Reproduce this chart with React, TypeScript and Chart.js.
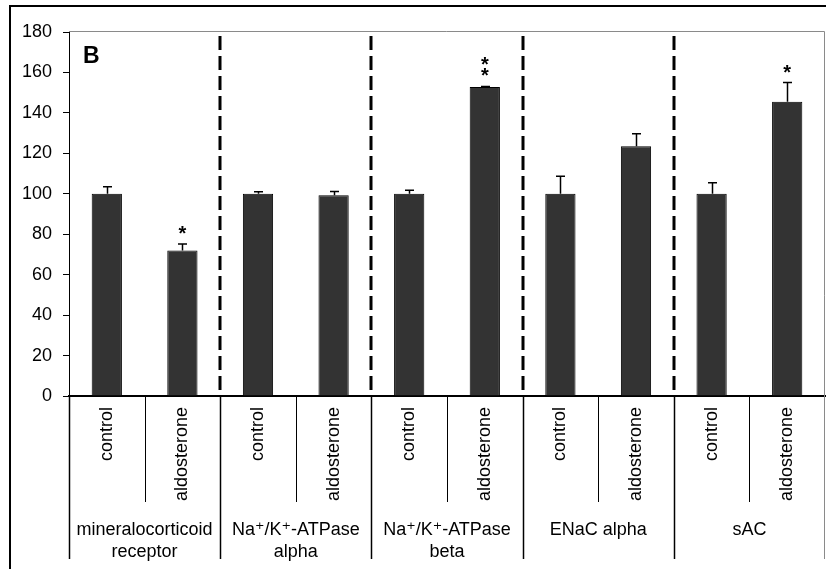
import React, { useEffect, useRef } from "react";
import { Chart, registerables } from "chart.js";

Chart.register(...registerables);

const categories = [
  "control", "aldosterone",
  "control", "aldosterone",
  "control", "aldosterone",
  "control", "aldosterone",
  "control", "aldosterone",
];
const values = [100, 72, 100, 99.3, 100, 152.8, 100, 123.5, 100, 145.5];
const errors = [3.5, 3.2, 1.0, 1.8, 1.7, 0.3, 8.7, 6.2, 5.5, 9.5];
const significance = ["", "*", "", "", "", "**", "", "", "", "*"];
const groupLabels = [
  ["mineralocorticoid", "receptor"],
  ["Na\u207A/K\u207A-ATPase", "alpha"],
  ["Na\u207A/K\u207A-ATPase", "beta"],
  ["ENaC alpha"],
  ["sAC"],
];
const panelLabel = "B";
const yMin = 0;
const yMax = 180;
const yStep = 20;

const FONT = "'Liberation Sans', Arial, 'DejaVu Sans', sans-serif";

const annotPlugin = {
  id: "annot",
  afterDraw(chart: any) {
    const { ctx, chartArea: a, scales } = chart;
    const x = scales.x;
    const y = scales.y;
    ctx.save();

    // outer frame
    ctx.strokeStyle = "#000";
    ctx.lineWidth = 2;
    ctx.beginPath();
    ctx.moveTo(10, 569);
    ctx.lineTo(10, 6);
    ctx.lineTo(826, 6);
    ctx.stroke();

    // plot area border (gray)
    ctx.strokeStyle = "#8a8a8a";
    ctx.lineWidth = 1;
    ctx.beginPath();
    ctx.moveTo(a.left, a.top - 0.5);
    ctx.lineTo(a.right - 0.5, a.top - 0.5);
    ctx.lineTo(a.right - 0.5, 559);
    ctx.stroke();

    // error bars
    ctx.strokeStyle = "#000";
    ctx.lineWidth = 1.5;
    values.forEach((v, i) => {
      const cx = Math.round(x.getPixelForValue(i)) + 0.5;
      const y0 = y.getPixelForValue(v);
      const y1 = y.getPixelForValue(v + errors[i]);
      ctx.beginPath();
      ctx.moveTo(cx, y0);
      ctx.lineTo(cx, y1);
      ctx.moveTo(cx - 4.5, y1);
      ctx.lineTo(cx + 4.5, y1);
      ctx.stroke();
    });

    // significance stars
    ctx.fillStyle = "#000";
    ctx.font = `bold 20px ${FONT}`;
    ctx.textAlign = "center";
    ctx.textBaseline = "alphabetic";
    significance.forEach((s, i) => {
      if (!s) return;
      const cx = x.getPixelForValue(i);
      const top = y.getPixelForValue(values[i] + errors[i]);
      for (let k = 0; k < s.length; k++) {
        const center = top - 15 - k * 11;
        ctx.fillText("*", cx, center + 11);
      }
    });

    // dashed group separators in plot area
    ctx.strokeStyle = "#000";
    ctx.lineWidth = 3;
    ctx.setLineDash([14, 6]);
    for (let k = 2; k < categories.length; k += 2) {
      const px = Math.round(x.getPixelForValue(k - 0.5));
      ctx.beginPath();
      ctx.moveTo(px, a.top + 4);
      ctx.lineTo(px, a.bottom);
      ctx.stroke();
    }
    ctx.setLineDash([]);

    // separators below the axis
    for (let k = 0; k < categories.length; k++) {
      const px = Math.round(x.getPixelForValue(k - 0.5)) + 0.5;
      const isGroup = k % 2 === 0;
      ctx.lineWidth = isGroup ? 1.5 : 1;
      ctx.strokeStyle = "#000";
      ctx.beginPath();
      ctx.moveTo(px, a.bottom);
      ctx.lineTo(px, isGroup ? 559 : 502);
      ctx.stroke();
    }

    // group labels
    ctx.font = `18px ${FONT}`;
    ctx.fillStyle = "#000";
    ctx.textAlign = "center";
    ctx.textBaseline = "alphabetic";
    groupLabels.forEach((lines, g) => {
      const cx = (x.getPixelForValue(2 * g) + x.getPixelForValue(2 * g + 1)) / 2;
      lines.forEach((line, j) => {
        ctx.fillText(line, cx, 535 + j * 22);
      });
    });

    // panel label
    ctx.font = `bold 23px ${FONT}`;
    ctx.textAlign = "left";
    ctx.fillText(panelLabel, 83, 63);

    ctx.restore();
  },
};

export default function App() {
  const ref = useRef<HTMLCanvasElement>(null);
  useEffect(() => {
    if (!ref.current) return;
    const chart = new Chart(ref.current, {
      type: "bar",
      data: {
        labels: categories,
        datasets: [
          {
            data: values,
            backgroundColor: "#333333",
            borderColor: "#000000",
            borderWidth: 1,
            barPercentage: 0.4,
            categoryPercentage: 1.0,
          },
        ],
      },
      options: {
        responsive: false,
        animation: false,
        events: [],
        layout: { padding: { top: 32, right: 1, left: 0, bottom: 0 } },
        plugins: {
          legend: { display: false },
          tooltip: { enabled: false },
          title: { display: false },
        },
        scales: {
          x: {
            type: "category",
            offset: true,
            grid: { display: false, drawTicks: false },
            border: { display: true, color: "#000", width: 2 },
            ticks: {
              autoSkip: false,
              minRotation: 90,
              maxRotation: 90,
              padding: 11,
              color: "#000",
              font: { family: FONT, size: 18 },
            },
            afterFit: (s: any) => {
              s.height = 173;
            },
          },
          y: {
            min: yMin,
            max: yMax,
            ticks: {
              stepSize: yStep,
              padding: 11,
              color: "#000",
              font: { family: FONT, size: 18 },
            },
            grid: {
              drawOnChartArea: false,
              drawTicks: true,
              tickLength: 6,
              color: "#000",
            },
            border: { display: true, color: "#000", width: 1 },
            afterFit: (s: any) => {
              s.width = 69;
            },
          },
        },
      },
      plugins: [annotPlugin],
    });
    return () => chart.destroy();
  }, []);
  return (
    <div style={{ position: "fixed", left: 0, top: 0, width: 826, height: 569, background: "#fff" }}>
      <canvas ref={ref} width={826} height={569} />
    </div>
  );
}
